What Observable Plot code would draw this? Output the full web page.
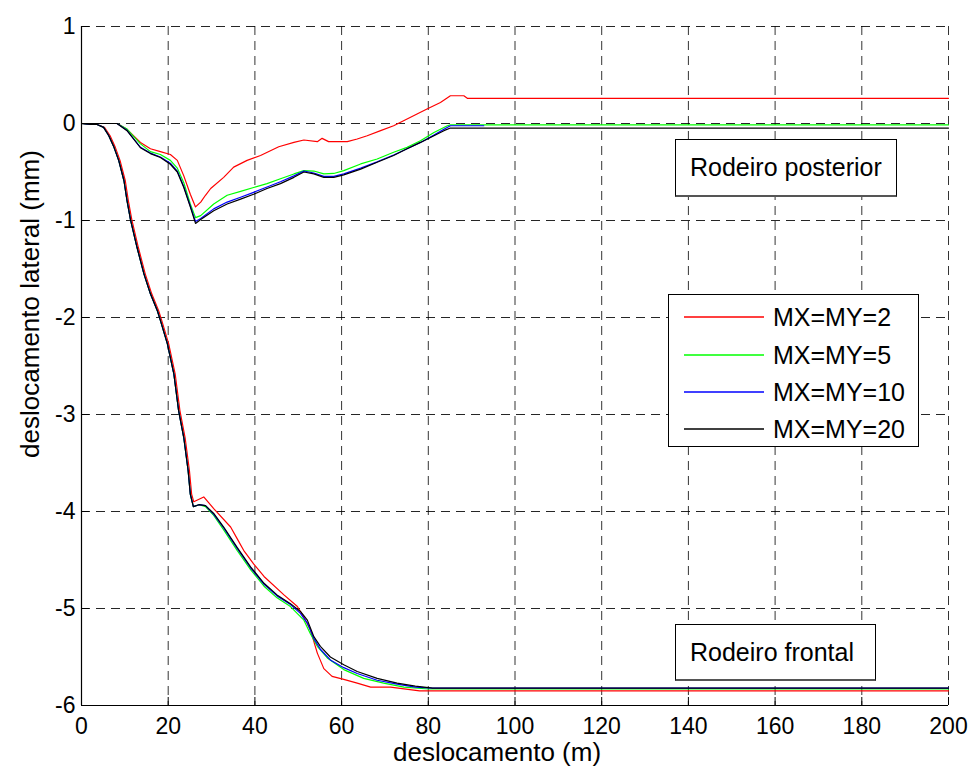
<!DOCTYPE html>
<html>
<head>
<meta charset="utf-8">
<script src="https://cdn.jsdelivr.net/npm/d3@7"></script>
<script src="https://cdn.jsdelivr.net/npm/@observablehq/plot@0.6"></script>
<style>
  html, body { margin: 0; padding: 0; background: #fff; }
  #wrap { position: relative; width: 974px; height: 776px; font-family: "Liberation Sans", Arial, sans-serif; color: #000; }
  #wrap > svg { position: absolute; left: 0; top: 0; }
  .lbl { position: absolute; white-space: nowrap; line-height: 1; }
  .box { position: absolute; box-sizing: border-box; border: 1px solid #000; border-bottom: 2px solid #555; background: #fff; display: flex; align-items: center; font-size: 25px; line-height: 1; padding-left: 14px; white-space: nowrap; }
  #legend { position: absolute; box-sizing: border-box; border: 1px solid #000; background: #fff; }
  #legend .row { position: absolute; left: 0; height: 0; width: 100%; }
  #legend .row svg { position: absolute; left: 15px; top: -2px; }
  #legend .row .tx { position: absolute; left: 104px; top: -12px; font-size: 25px; line-height: 1; white-space: nowrap; }
</style>
</head>
<body>
<div id="wrap"></div>
<script>
// ---- data ----
const seriesLabels = ["MX=MY=2", "MX=MY=5", "MX=MY=10", "MX=MY=20"];
const seriesColors = ["#ff0000", "#00ff00", "#0000ff", "#000000"];
const xTicks = [0, 20, 40, 60, 80, 100, 120, 140, 160, 180, 200];
const yTicks = [1, 0, -1, -2, -3, -4, -5, -6];

// Rodeiro posterior (rear wheelset)
const rear_MX2 = [[0,0],[8.2,0],[10.5,-0.06],[13.6,-0.195],[15.9,-0.26],[18.2,-0.29],[20.5,-0.32],[22.1,-0.38],[23.6,-0.54],[25.1,-0.73],[26.3,-0.86],[27.5,-0.81],[28.6,-0.74],[29.8,-0.67],[32.8,-0.555],[35.1,-0.45],[38.2,-0.38],[41.3,-0.33],[45.5,-0.24],[49,-0.195],[51.3,-0.17],[54.4,-0.187],[55.5,-0.153],[57,-0.187],[61.3,-0.187],[63.6,-0.16],[65.9,-0.126],[69,-0.074],[72,-0.023],[74.3,0.029],[77.4,0.098],[79.7,0.149],[82.8,0.217],[85.1,0.286],[88.2,0.286],[89,0.26],[200,0.26]];
const rear_MX5 = [[0,0],[8.2,0],[10.5,-0.057],[13.6,-0.21],[15.9,-0.29],[18.2,-0.32],[20.5,-0.38],[22.1,-0.46],[23.6,-0.61],[25.1,-0.83],[26.3,-0.97],[27.5,-0.95],[30.5,-0.83],[33.6,-0.74],[36.7,-0.70],[39.7,-0.66],[42.8,-0.62],[45.9,-0.57],[49,-0.52],[51.3,-0.486],[53.6,-0.49],[55.9,-0.52],[58.2,-0.515],[60.5,-0.486],[64.4,-0.417],[68.2,-0.366],[72,-0.297],[75.1,-0.246],[78.2,-0.177],[81.3,-0.092],[84.4,-0.023],[85.1,-0.015],[200,-0.015]];
const rear_MX10 = [[0,0],[8.2,0],[10.5,-0.07],[13.6,-0.245],[15.9,-0.305],[18.2,-0.345],[20.5,-0.41],[22.1,-0.49],[23.6,-0.65],[25.1,-0.85],[26.3,-1.01],[27.5,-0.98],[30.5,-0.88],[33.6,-0.81],[36.7,-0.76],[39.7,-0.71],[42.8,-0.655],[45.9,-0.60],[49,-0.54],[51.3,-0.49],[53.6,-0.51],[55.9,-0.545],[58.2,-0.545],[60.5,-0.52],[64.4,-0.46],[68.2,-0.395],[72,-0.325],[75.1,-0.26],[78.2,-0.195],[81.3,-0.12],[83.6,-0.06],[85.1,-0.023],[92.8,-0.023]];
const rear_MX20 = [[0,0],[8.2,0],[10.5,-0.074],[13.6,-0.25],[15.9,-0.31],[18.2,-0.35],[20.5,-0.42],[22.1,-0.50],[23.6,-0.66],[25.1,-0.86],[26.3,-1.03],[27.5,-0.99],[30.5,-0.90],[33.6,-0.83],[36.7,-0.78],[39.7,-0.73],[42.8,-0.67],[45.9,-0.62],[49,-0.555],[51.3,-0.50],[53.6,-0.52],[55.9,-0.555],[58.2,-0.555],[60.5,-0.53],[64.4,-0.47],[68.2,-0.40],[72,-0.33],[75.1,-0.26],[78.2,-0.195],[81.3,-0.126],[83.6,-0.074],[85.1,-0.047],[200,-0.047]];

// Rodeiro frontal (front wheelset)
const front_MX2 = [[0,0],[2,-0.01],[3.6,-0.01],[5.3,-0.04],[6.6,-0.126],[7.8,-0.246],[8.9,-0.383],[10.1,-0.59],[10.8,-0.795],[11.6,-0.99],[13.1,-1.276],[14.7,-1.55],[16.2,-1.756],[17.8,-1.93],[18.5,-2.03],[20.1,-2.27],[21.6,-2.58],[22.7,-2.96],[23.9,-3.24],[24.9,-3.58],[25.4,-3.82],[25.9,-3.90],[28.2,-3.85],[30.5,-3.97],[34.4,-4.16],[35.9,-4.28],[37.4,-4.40],[39.7,-4.54],[42.1,-4.67],[46.7,-4.86],[49.8,-4.98],[51.3,-5.09],[52.8,-5.22],[54.4,-5.46],[55.9,-5.62],[57.8,-5.70],[60.5,-5.73],[63.6,-5.77],[66.7,-5.81],[71.3,-5.81],[78,-5.85],[200,-5.85]];
const front_MX5 = [[0,0],[2,-0.01],[3.6,-0.01],[5.1,-0.04],[6.3,-0.126],[7.5,-0.246],[8.6,-0.383],[9.8,-0.59],[10.5,-0.795],[11.3,-0.99],[12.8,-1.276],[14.4,-1.55],[15.9,-1.756],[17.5,-1.93],[18.2,-2.03],[19.8,-2.27],[21.3,-2.58],[22.4,-2.96],[23.6,-3.24],[24.6,-3.58],[25.1,-3.82],[25.8,-3.95],[27.1,-3.93],[28.6,-3.95],[30.5,-4.04],[32.8,-4.19],[35.9,-4.40],[39,-4.60],[42.1,-4.77],[45.1,-4.89],[48.2,-4.98],[51.3,-5.12],[52.8,-5.26],[54.4,-5.39],[56.7,-5.51],[60.5,-5.63],[65.1,-5.72],[69.7,-5.77],[74.4,-5.81],[80,-5.83],[200,-5.83]];
const front_MX10 = [[0,0],[2,-0.01],[3.6,-0.01],[5.1,-0.04],[6.3,-0.126],[7.5,-0.246],[8.6,-0.383],[9.8,-0.59],[10.5,-0.795],[11.3,-0.99],[12.8,-1.276],[14.4,-1.55],[15.9,-1.756],[17.5,-1.93],[18.2,-2.03],[19.8,-2.27],[21.3,-2.58],[22.4,-2.96],[23.6,-3.24],[24.6,-3.58],[25.1,-3.82],[25.8,-3.95],[27.1,-3.93],[28.6,-3.94],[30.5,-4.03],[32.8,-4.17],[35.9,-4.38],[39,-4.58],[42.1,-4.75],[45.1,-4.87],[48.2,-4.96],[50.5,-5.05],[52.1,-5.15],[53.6,-5.31],[55.1,-5.42],[57.4,-5.53],[60.5,-5.61],[63.6,-5.67],[68.2,-5.74],[72.8,-5.78],[77,-5.81],[81,-5.82],[200,-5.82]];
const front_MX20 = [[0,0],[2,-0.01],[3.6,-0.01],[5.1,-0.04],[6.3,-0.126],[7.5,-0.246],[8.6,-0.383],[9.8,-0.59],[10.5,-0.795],[11.3,-0.99],[12.8,-1.276],[14.4,-1.55],[15.9,-1.756],[17.5,-1.93],[18.2,-2.03],[19.8,-2.27],[21.3,-2.58],[22.4,-2.96],[23.6,-3.24],[24.6,-3.58],[25.1,-3.82],[25.8,-3.95],[27.1,-3.93],[28.6,-3.94],[30.5,-4.02],[32.8,-4.16],[35.9,-4.37],[39,-4.57],[42.1,-4.74],[45.1,-4.86],[48.2,-4.95],[50.5,-5.03],[52.1,-5.12],[53.6,-5.29],[55.1,-5.39],[57.4,-5.50],[60.5,-5.58],[63.6,-5.65],[68.2,-5.72],[72.8,-5.77],[77,-5.80],[81,-5.82],[200,-5.82]];

const labelX = "deslocamento (m)";
const labelY = "deslocamento lateral (mm)";
const noteRear = "Rodeiro posterior";
const noteFront = "Rodeiro frontal";

// ---- build table ----
const groups = [
  ["rear", rear_MX2, 0], ["front", front_MX2, 0],
  ["rear", rear_MX5, 1], ["front", front_MX5, 1],
  ["rear", rear_MX10, 2], ["front", front_MX10, 2],
  ["rear", rear_MX20, 3], ["front", front_MX20, 3]
];
const rows = [];
for (const [w, pts, si] of groups) {
  for (const [x, y] of pts) rows.push({x, y, series: seriesLabels[si], key: w + "-" + si});
}

const fmt = d => String(d);

const chart = Plot.plot({
  width: 974, height: 776,
  marginLeft: 81, marginRight: 26, marginTop: 26, marginBottom: 71,
  x: {domain: [0, 200]},
  y: {domain: [-6, 1]},
  color: {domain: seriesLabels, range: seriesColors},
  style: {fontFamily: "'Liberation Sans', Arial, sans-serif", background: "white", color: "black", overflow: "visible"},
  marks: [
    Plot.gridX(xTicks, {stroke: "#000", strokeOpacity: 0.8, strokeWidth: 1, strokeDasharray: "9,6"}),
    Plot.gridY(yTicks, {stroke: "#000", strokeOpacity: 0.85, strokeWidth: 1, strokeDasharray: "9,6"}),
    Plot.line(rows, {x: "x", y: "y", z: "key", stroke: "series", strokeWidth: 1.2}),
    Plot.ruleX([0], {stroke: "#000", strokeWidth: 1.2}),
    Plot.ruleY([-6], {stroke: "#000", strokeWidth: 1.2}),
    Plot.axisX(xTicks, {tickSize: -8, tickPadding: 20, fontSize: 23, label: null, stroke: "#000", tickFormat: fmt}),
    Plot.axisY(yTicks, {tickSize: -8, tickPadding: 14, fontSize: 23, label: null, stroke: "#000", tickFormat: fmt})
  ]
});

const wrap = document.getElementById("wrap");
wrap.appendChild(chart);

function addLabel(text, css) {
  const d = document.createElement("div");
  d.className = "lbl";
  d.textContent = text;
  Object.assign(d.style, css);
  wrap.appendChild(d);
  return d;
}
addLabel(labelX, {left: "497px", top: "752px", fontSize: "26px", transform: "translate(-50%,-50%)"});
addLabel(labelY, {left: "30px", top: "304px", fontSize: "26px", transform: "translate(-50%,-50%) rotate(-90deg)"});

function addBox(text, l, t, w, h) {
  const d = document.createElement("div");
  d.className = "box";
  d.textContent = text;
  Object.assign(d.style, {left: l + "px", top: t + "px", width: w + "px", height: h + "px"});
  wrap.appendChild(d);
}
addBox(noteRear, 675, 139, 222, 58);
addBox(noteFront, 675, 624, 201, 57);

const leg = document.createElement("div");
leg.id = "legend";
Object.assign(leg.style, {left: "668px", top: "294px", width: "251px", height: "153px"});
const rowY = [22, 59.5, 97, 134];
const NS = "http://www.w3.org/2000/svg";
seriesLabels.forEach((s, i) => {
  const r = document.createElement("div");
  r.className = "row";
  r.style.top = rowY[i] + "px";
  const sv = document.createElementNS(NS, "svg");
  sv.setAttribute("width", "80");
  sv.setAttribute("height", "4");
  const ln = document.createElementNS(NS, "line");
  ln.setAttribute("x1", "0"); ln.setAttribute("x2", "80");
  ln.setAttribute("y1", "2"); ln.setAttribute("y2", "2");
  ln.setAttribute("stroke", seriesColors[i]);
  ln.setAttribute("stroke-width", "1.4");
  sv.appendChild(ln);
  const tx = document.createElement("div");
  tx.className = "tx";
  tx.textContent = s;
  r.appendChild(sv); r.appendChild(tx);
  leg.appendChild(r);
});
wrap.appendChild(leg);
</script>
</body>
</html>
